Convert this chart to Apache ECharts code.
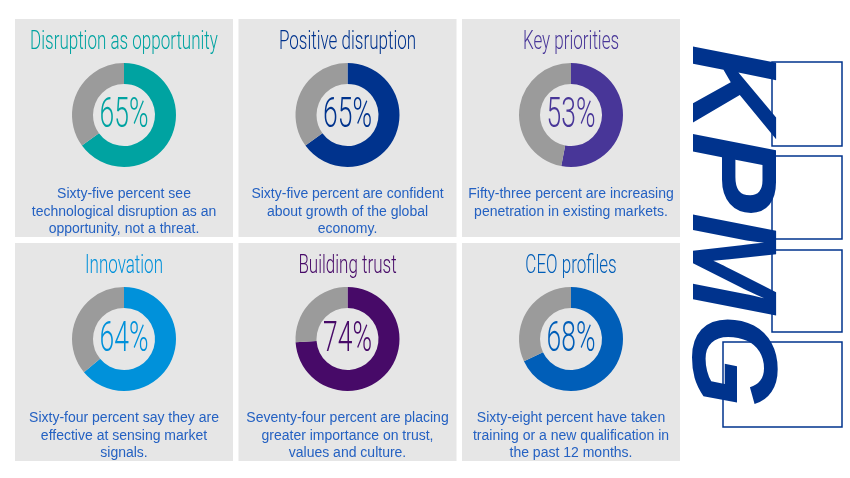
<!DOCTYPE html>
<html>
<head>
<meta charset="utf-8">
<script src="https://cdn.jsdelivr.net/npm/echarts@6/dist/echarts.min.js"></script>
<style>
  html, body { margin: 0; padding: 0; background: #fff; }
  #chart { width: 850px; height: 478px; }
</style>
</head>
<body>
<div id="chart"></div>
<script>
// panel data, left to right, top to bottom
const titles = ['Disruption as opportunity', 'Positive disruption', 'Key priorities',
                'Innovation', 'Building trust', 'CEO profiles'];
const percents = [65, 65, 53, 64, 74, 68];
const descriptions = [
  'Sixty-five percent see\ntechnological disruption as an\nopportunity, not a threat.',
  'Sixty-five percent are confident\nabout growth of the global\neconomy.',
  'Fifty-three percent are increasing\npenetration in existing markets.',
  'Sixty-four percent say they are\neffective at sensing market\nsignals.',
  'Seventy-four percent are placing\ngreater importance on trust,\nvalues and culture.',
  'Sixty-eight percent have taken\ntraining or a new qualification in\nthe past 12 months.'
];
const colors = ['#00a3a1', '#00338d', '#483698', '#0091da', '#470a68', '#005eb8'];

const myChart = echarts.init(document.getElementById('chart'));

const thinFont = "'Roboto', sans-serif";
const GRAY = '#9b9b9b';
const KPMG = '#00338d';

let series = [];
let graphic = [];

titles.forEach(function(t, i) {
  let col = i % 3;
  let row = Math.floor(i / 3);
  let px = 15 + col * 223.5;
  let py = 19 + row * 224;
  let cx = px + 109;
  let cy = py + 96;

  graphic.push({
    type: 'rect', z: -10,
    shape: { x: px, y: py, width: 218, height: 218 },
    style: { fill: '#e6e6e6' }
  });
  // condensed look: squeeze the light font sideways
  graphic.push({
    type: 'text', x: cx, y: py + 23.5, scaleX: 0.68, z: 5,
    style: {
      text: t, fill: colors[i], font: "300 25px " + thinFont,
      align: 'center', verticalAlign: 'middle'
    }
  });
  graphic.push({
    type: 'text', x: cx, y: cy + 1, scaleX: 0.63, z: 5,
    style: {
      text: percents[i] + '%', fill: colors[i], font: "300 42px " + thinFont,
      align: 'center', verticalAlign: 'middle'
    }
  });
  graphic.push({
    type: 'text', x: cx, y: py + 166.5,
    style: {
      text: descriptions[i], fill: '#2461c2', font: "14px 'Liberation Sans', Arial, sans-serif",
      lineHeight: 17.5, align: 'center', verticalAlign: 'top'
    }
  });

  series.push({
    type: 'pie',
    silent: true,
    radius: [31, 52],
    center: [cx, cy],
    startAngle: 90,
    avoidLabelOverlap: false,
    label: { show: false },
    labelLine: { show: false },
    emphasis: { disabled: true },
    data: [
      { value: percents[i], itemStyle: { color: colors[i] } },
      { value: 100 - percents[i], itemStyle: { color: GRAY } }
    ]
  });
});

// KPMG logo, turned on its side
[[772, 62, 70, 84], [772, 156, 70, 83], [772, 250, 70, 82], [723, 342, 119, 85]].forEach(function(b) {
  graphic.push({
    type: 'rect', z: 1,
    shape: { x: b[0], y: b[1], width: b[2], height: b[3] },
    style: { fill: '#fff', stroke: KPMG, lineWidth: 1.5 }
  });
});
graphic.push({
  type: 'text', z: 2,
  x: 726, y: 226,
  rotation: -Math.PI / 2,
  style: {
    text: 'KPMG', fill: KPMG,
    font: "italic bold 121px 'Liberation Sans', Arial, sans-serif",
    align: 'center', verticalAlign: 'middle'
  }
});

let option = {
  backgroundColor: '#ffffff',
  animation: false,
  graphic: graphic,
  series: series
};

myChart.setOption(option);
</script>
</body>
</html>
